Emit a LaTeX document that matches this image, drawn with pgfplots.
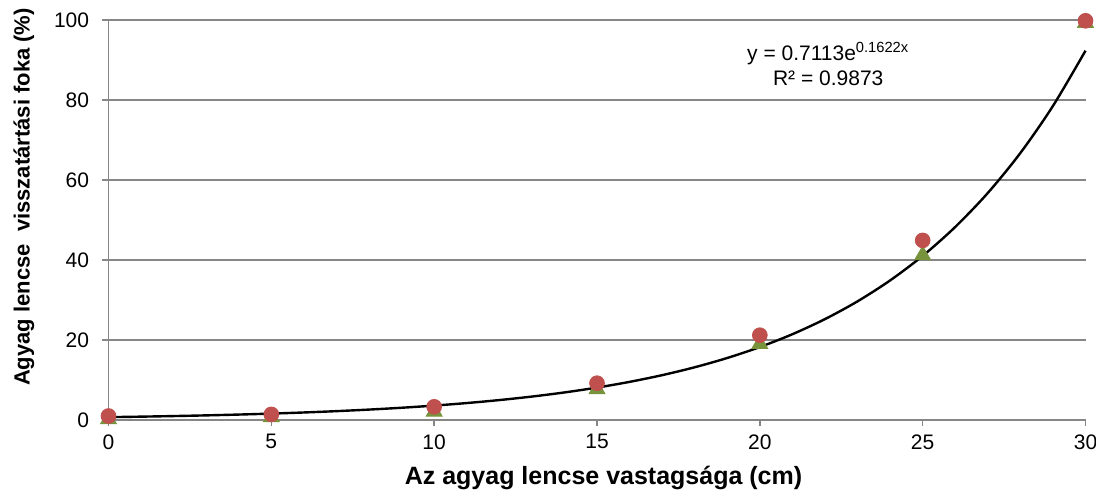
\documentclass[border=0pt]{standalone}
\usepackage{fontspec}
\setmainfont{Liberation Sans}
\usepackage{pgfplots}
\pgfplotsset{compat=1.18}
\definecolor{gridgray}{HTML}{868686}
\definecolor{redpt}{HTML}{C0504D}
\definecolor{greenpt}{HTML}{77933C}
\begin{document}
\begin{tikzpicture}
\useasboundingbox (-54.25pt,-36pt) rectangle (493.75pt,210pt);
\begin{axis}[
  at={(0,0)}, anchor=south west,
  scale only axis, width=488.5pt, height=200pt,
  xmin=0, xmax=30, ymin=0, ymax=100,
  xtick={0,5,...,30}, ytick={0,20,...,100},
  axis x line*=bottom, axis y line*=left,
  axis line style={gridgray, line width=0.75pt, -},
  tick style={gridgray, line width=0.75pt},
  tick align=outside, major tick length=3pt,
  ymajorgrids, grid style={gridgray, line width=0.75pt},
  tick label style={font=\fontsize{10.5pt}{12pt}\selectfont, inner sep=0pt},
  /pgf/number format/assume math mode=true,
  xticklabel style={anchor=north, yshift=-4pt},
  yticklabel style={anchor=east, xshift=-6.5pt},
  xlabel={\bfseries Az agyag lencse vastagsága (cm)},
  ylabel={\bfseries Agyag lencse\ \ visszatártási foka (\%)},
  xlabel style={font=\fontsize{12.5pt}{14pt}\selectfont, at={(axis description cs:0.5,-0.145)}, anchor=center, xshift=3.25pt},
  ylabel style={font=\fontsize{11pt}{13pt}\selectfont, at={(axis description cs:-0.0865,0.5575)}, anchor=center},
  clip=false,
]
\addplot[only marks, mark=triangle*, mark size=4.6pt, color=greenpt] coordinates {
(0,0.2) (5,0.7) (10,2.1) (15,7.7) (20,19.0) (25,41.2) (30,99.3)};
\addplot[only marks, mark=*, mark size=3.7pt, color=redpt] coordinates {
(0,1.0) (5,1.4) (10,3.3) (15,9.2) (20,21.2) (25,44.9) (30,99.8)};
\addplot[black, line width=1.2pt, smooth] coordinates {
(0,0.711) (1,0.837) (2,0.984) (3,1.157) (4,1.361) (5,1.601) (6,1.882) (7,2.214) (8,2.604) (9,3.062)
(10,3.602) (11,4.236) (12,4.982) (13,5.859) (14,6.891) (15,8.104) (16,9.531) (17,11.209) (18,13.183) (19,15.505)
(20,18.236) (21,21.447) (22,25.224) (23,29.666) (24,34.890) (25,41.03) (26,48.26) (27,56.76) (28,66.75) (29,78.51) (30,92.33)};
\node[align=center, font=\fontsize{10.5pt}{12.5pt}\selectfont] at (axis cs:22.1,89) {y = 0.7113e\textsuperscript{0.1622x}\\R² = 0.9873};
\end{axis}
\end{tikzpicture}
\end{document}
